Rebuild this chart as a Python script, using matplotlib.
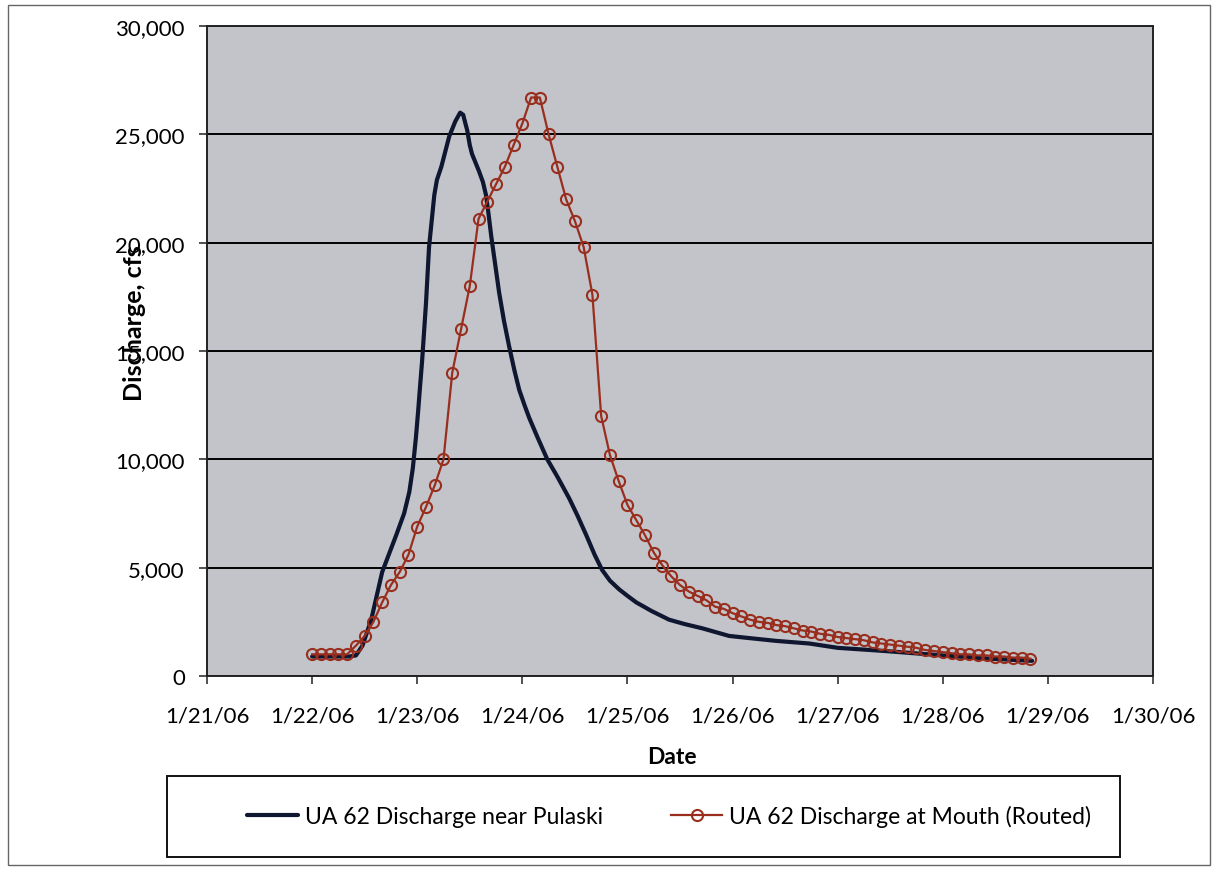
import numpy as np
import pandas as pd
import matplotlib
matplotlib.use('Agg')
import matplotlib.pyplot as plt
import matplotlib.dates as mdates
from matplotlib.ticker import FuncFormatter
from matplotlib.patches import Rectangle

plt.rcParams['font.family'] = ['Lato', 'DejaVu Sans']

start = pd.Timestamp('2006-01-22')

# UA 62 near Pulaski (hours after 1/22/06 00:00, cfs)
pulaski_hr = [0, 8.5, 10, 11.5, 13.5, 16, 17.5, 19.2, 21, 22.2, 23, 23.7,
              24.2, 24.7, 25.1, 25.6, 26.0, 26.7, 27.3, 27.9, 28.5, 29.5, 30.4,
              31.3, 32.7, 33.8, 34.5, 35.0, 35.4, 36.0, 36.5, 37.3, 38.1, 39.0,
              39.7, 40.3, 40.9, 41.8, 42.7, 43.8, 45, 46.2, 47.3, 48.5, 49.6,
              51.5, 53.7, 56, 58.7, 60.6, 62.6, 64.5, 66.2, 68, 70.1, 72, 74,
              77.5, 81.5, 85, 89.1, 95.2, 99.8, 106, 113.5, 120, 131, 144,
              154.6, 164.4]
pulaski_q = [900, 900, 950, 1400, 2600, 4800, 5600, 6500, 7500, 8500, 9600, 11000,
             12200, 13500, 14500, 16000, 17200, 19800, 21000, 22200, 22900, 23500,
             24200, 24900, 25600, 26000, 25900, 25500, 25200, 24500, 24100, 23700,
             23300, 22800, 22200, 21300, 20300, 19000, 17700, 16400, 15200, 14100,
             13200, 12500, 11900, 11000, 10000, 9200, 8200, 7400, 6500, 5600, 4900,
             4400, 4000, 3700, 3400, 3000, 2600, 2400, 2200, 1850, 1750, 1620,
             1500, 1300, 1150, 950, 800, 700]

# routed flow at the mouth, every 2 hours from 1/22/06 00:00
mouth_q = [1000, 1000, 1000, 1000, 1000, 1400, 1850, 2500, 3400, 4200,
           4800, 5600, 6900, 7800, 8800, 10000, 14000, 16000, 18000, 21100,
           21900, 22700, 23500, 24500, 25500, 26700, 26700, 25000, 23500, 22000,
           21000, 19800, 17600, 12000, 10200, 9000, 7900, 7200, 6500, 5700,
           5100, 4600, 4200, 3900, 3700, 3500, 3200, 3100, 2900, 2750,
           2600, 2500, 2450, 2350, 2300, 2200, 2100, 2050, 1950, 1900,
           1800, 1750, 1700, 1650, 1550, 1500, 1450, 1400, 1350, 1300,
           1200, 1150, 1100, 1050, 1000, 1000, 950, 950, 900, 900,
           850, 850, 800]
mouth_step_hr = 2

y_ticks = [0, 5000, 10000, 15000, 20000, 25000, 30000]

t_pul = start + pd.to_timedelta(pulaski_hr, unit='h')
t_mouth = start + pd.to_timedelta(np.arange(len(mouth_q)) * mouth_step_hr, unit='h')

fig = plt.figure(figsize=(12.12, 8.70), dpi=100)
fig.patch.set_facecolor('white')
ax = fig.add_axes([207/1212, 1-677/870, (1153-207)/1212, (677-27)/870])
ax.set_facecolor('#c2c4c9')

ax.plot(t_pul, pulaski_q, color='#0e1630', lw=3.0, solid_capstyle='round',
        solid_joinstyle='round', label='UA 62 Discharge near Pulaski', zorder=3)
ax.plot(t_mouth, mouth_q, color='#9a2e1e', lw=1.6, marker='o', ms=8,
        mfc='none', mec='#9a2e1e', mew=1.5,
        label='UA 62 Discharge at Mouth (Routed)', zorder=4)

ax.set_xlim(pd.Timestamp('2006-01-21'), pd.Timestamp('2006-01-30'))
ax.set_ylim(0, 30000)
ax.set_yticks(y_ticks)
ax.yaxis.set_major_formatter(FuncFormatter(lambda v, p: f'{int(v):,}'))
ax.xaxis.set_major_locator(mdates.DayLocator())
ax.xaxis.set_major_formatter(FuncFormatter(
    lambda v, p: (lambda d: f'{d.month}/{d.day}/{d:%y}')(mdates.num2date(v))))

ax.grid(axis='y', color='black', lw=1.4)
ax.set_axisbelow(True)
for s in ax.spines.values():
    s.set_color('#222222')
    s.set_linewidth(1.4)
ax.tick_params(axis='both', direction='out', length=6, width=1.2,
               color='#333333', labelsize=16, labelcolor='black')
ax.tick_params(axis='x', pad=15)
ax.tick_params(axis='y', pad=10)

fig.text(135/1212, 1-401/870, 'Discharge, cfs', rotation=90, ha='center',
         va='bottom', fontsize=18, fontweight='bold')
fig.text(672/1212, 1-758/870, 'Date', ha='center', va='center',
         fontsize=16.5, fontweight='bold')

# legend box and outer chart border
fig.patches.append(Rectangle((167/1212, 1-858/870), (1120-167)/1212, (858-777)/870,
                             transform=fig.transFigure, fill=False,
                             edgecolor='#111111', lw=1.4))
fig.patches.append(Rectangle((8/1212, 1-866/870), (1210-8)/1212, (866-6)/870,
                             transform=fig.transFigure, fill=False,
                             edgecolor='#666666', lw=1.0))

h, l = ax.get_legend_handles_labels()
fig.legend(h, l, loc='center', bbox_to_anchor=(669/1212, 1-817/870), ncol=2,
           frameon=False, fontsize=16.5, handlelength=2.2, handletextpad=0.3,
           columnspacing=3.0)

fig.savefig('out.png', dpi=100)
